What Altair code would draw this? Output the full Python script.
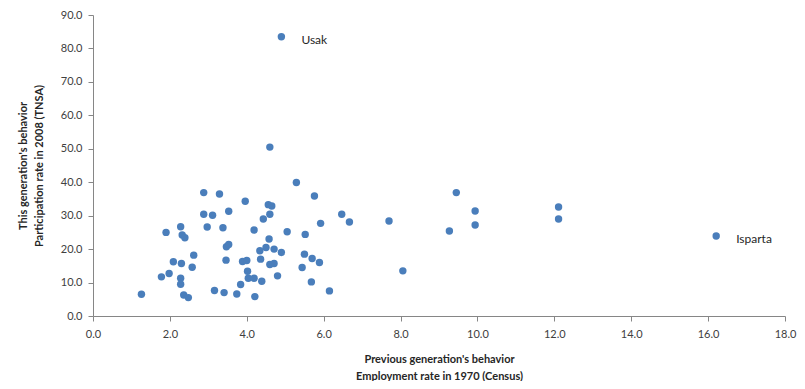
import altair as alt
import pandas as pd

# Previous generation's behavior: employment rate in 1970 (Census)
emp_1970 = [
    4.90, 16.21, 7.70, 9.45, 9.94, 9.94, 9.27, 8.06, 12.11, 12.11,
    2.88, 3.29, 3.96, 2.88, 3.11, 3.53, 2.97, 3.38, 2.28, 1.90,
    2.32, 2.39, 5.29, 5.76, 4.56, 4.65, 4.60, 4.43, 6.47, 6.67,
    5.92, 4.19, 5.05, 5.52, 4.58, 4.60, 3.47, 3.53, 2.62, 3.46,
    2.09, 2.30, 2.58, 1.98, 1.78, 2.28, 2.28, 3.84, 1.26, 2.36,
    2.48, 3.16, 3.41, 3.74, 4.34, 4.50, 4.71, 4.90, 4.36, 5.50,
    5.70, 5.89, 5.44, 3.89, 4.00, 4.60, 4.71, 4.02, 4.80, 4.04,
    4.19, 4.39, 4.21, 5.68, 6.15,
]
# This generation's behavior: participation rate in 2008 (TNSA)
part_2008 = [
    83.5, 23.9, 28.4, 36.9, 31.4, 27.2, 25.4, 13.5, 32.6, 29.0,
    36.9, 36.5, 34.3, 30.4, 30.1, 31.3, 26.6, 26.4, 26.7, 25.0,
    24.2, 23.4, 39.9, 35.9, 33.3, 32.9, 30.4, 29.0, 30.4, 28.1,
    27.7, 25.7, 25.2, 24.4, 23.0, 50.5, 20.7, 21.4, 18.2, 16.7,
    16.2, 15.7, 14.6, 12.7, 11.7, 11.3, 9.5, 9.4, 6.5, 6.3,
    5.5, 7.6, 7.0, 6.6, 19.5, 20.5, 20.0, 19.0, 17.0, 18.5,
    17.2, 16.0, 14.5, 16.3, 16.6, 15.4, 15.7, 13.4, 12.0, 11.3,
    11.3, 10.4, 5.8, 10.2, 7.5,
]
label_names = ["Usak", "Isparta"]
label_x = [4.90, 16.21]
label_y = [83.5, 23.9]

x_ticks = [0, 2, 4, 6, 8, 10, 12, 14, 16, 18]
y_ticks = [0, 10, 20, 30, 40, 50, 60, 70, 80, 90]

df = pd.DataFrame({"x": emp_1970, "y": part_2008})
lab = pd.DataFrame({"name": label_names, "x": label_x, "y": label_y})

FONT = "Lato"
AX = "#868686"
TXT = "#404040"

xs = alt.Scale(domain=[0, 18], nice=False, zero=True)
ys = alt.Scale(domain=[0, 90], nice=False, zero=True)

xax = alt.Axis(
    values=x_ticks, format=".1f", grid=False, domainColor=AX, tickColor=AX,
    tickSize=5, labelPadding=7, labelFontSize=11, labelColor=TXT, labelFont=FONT,
    labelOverlap=False, labelFlush=False,
    title=["Previous generation's behavior", "Employment rate in 1970 (Census)"],
    titleFont=FONT, titleFontSize=11, titleFontWeight="bold", titleColor="#262626",
    titlePadding=14, titleLineHeight=17,
)
yax = alt.Axis(
    values=y_ticks, format=".1f", grid=False, domainColor=AX, tickColor=AX,
    tickSize=5, labelPadding=6, labelFontSize=11, labelColor=TXT, labelFont=FONT,
    labelOverlap=False, labelFlush=False,
    title=["This generation's behavior", "Participation rate in 2008 (TNSA)"],
    titleFont=FONT, titleFontSize=11, titleFontWeight="bold", titleColor="#262626",
    titlePadding=16, titleLineHeight=16,
)

pts = alt.Chart(df).mark_circle(size=55, color="#4A7EBB", opacity=1).encode(
    x=alt.X("x:Q", scale=xs, axis=xax),
    y=alt.Y("y:Q", scale=ys, axis=yax),
)

txt = alt.Chart(lab).mark_text(
    align="left", baseline="middle", dx=20, dy=3, fontSize=12, font=FONT, color="#262626"
).encode(
    x=alt.X("x:Q", scale=xs, axis=xax),
    y=alt.Y("y:Q", scale=ys, axis=yax),
    text="name:N",
)

chart = (pts + txt).properties(
    width=692, height=301,
    autosize=alt.AutoSizeParams(type="none"),
    padding={"left": 85, "top": 7, "right": 12, "bottom": 65},
).configure_view(stroke=None)

chart.save("out.html", embed_options={"renderer": "svg", "actions": False})
